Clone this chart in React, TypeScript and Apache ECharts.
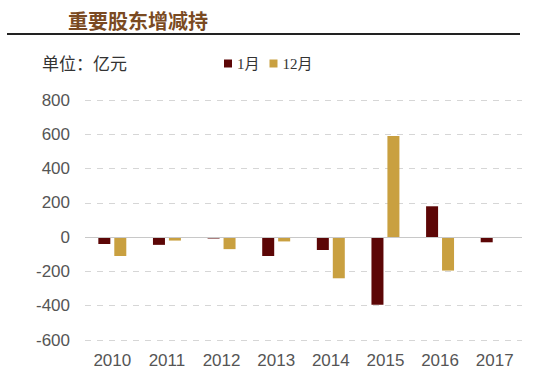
import React, { useEffect, useRef } from "react";
import * as echarts from "echarts";

const categories = ["2010", "2011", "2012", "2013", "2014", "2015", "2016", "2017"];
const janValues = [-40, -45, -8, -110, -75, -395, 180, -30];
const decValues = [-110, -20, -70, -25, -240, 590, -195, null];
const yTicks = [-600, -400, -200, 0, 200, 400, 600, 800];

export default function App() {
  const ref = useRef<HTMLDivElement>(null);
  useEffect(() => {
    const chart = echarts.init(ref.current!, null, { renderer: "svg" });
    chart.setOption({
      animation: false,
      backgroundColor: "#ffffff",
      graphic: [
        {
          type: "text",
          left: 68,
          top: 10,
          style: {
            text: "重要股东增减持",
            fill: "#7a4a22",
            font: "bold 20px 'Noto Sans CJK SC', serif",
          },
        },
        {
          type: "rect",
          shape: { x: 7, y: 33, width: 513, height: 2 },
          style: { fill: "#222" },
        },
        {
          type: "text",
          left: 42,
          top: 54,
          style: {
            text: "单位：亿元",
            fill: "#333",
            font: "17px 'Noto Sans CJK SC', serif",
          },
        },
      ],
      legend: {
        left: 219,
        top: 51,
        itemWidth: 8,
        itemHeight: 8,
        itemGap: 10,
        icon: "rect",
        textStyle: { fontSize: 15, color: "#333", fontFamily: "'Liberation Serif', 'Noto Sans CJK SC', serif" },
        data: ["1月", "12月"],
      },
      grid: { left: 85, right: 28, top: 100, bottom: 44, containLabel: false },
      xAxis: {
        type: "category",
        data: categories,
        axisLine: { show: false },
        axisTick: { show: false },
        axisLabel: { fontSize: 17, color: "#555", margin: 12, fontFamily: "Arial, 'Liberation Sans', sans-serif" },
      },
      yAxis: {
        type: "value",
        min: yTicks[0],
        max: yTicks[yTicks.length - 1],
        interval: 200,
        axisLine: { show: false },
        axisTick: { show: false },
        axisLabel: { fontSize: 17, color: "#555", margin: 15, fontFamily: "Arial, 'Liberation Sans', sans-serif" },
        splitLine: {
          lineStyle: { color: "#d6d6d6", type: [6, 6], width: 1 },
        },
      },
      series: [
        {
          name: "1月",
          type: "bar",
          data: janValues,
          barWidth: 12,
          barGap: "33%",
          itemStyle: { color: "#5c0606" },
          markLine: {
            silent: true,
            symbol: "none",
            label: { show: false },
            lineStyle: { color: "#c8c8c8", type: "solid", width: 1 },
            data: [{ yAxis: 0 }],
          },
        },
        {
          name: "12月",
          type: "bar",
          data: decValues,
          barWidth: 12,
          itemStyle: { color: "#c9a040" },
        },
      ],
    });
    return () => chart.dispose();
  }, []);
  return (
    <div
      ref={ref}
      style={{ position: "absolute", left: 0, top: 0, width: 550, height: 384 }}
    />
  );
}
